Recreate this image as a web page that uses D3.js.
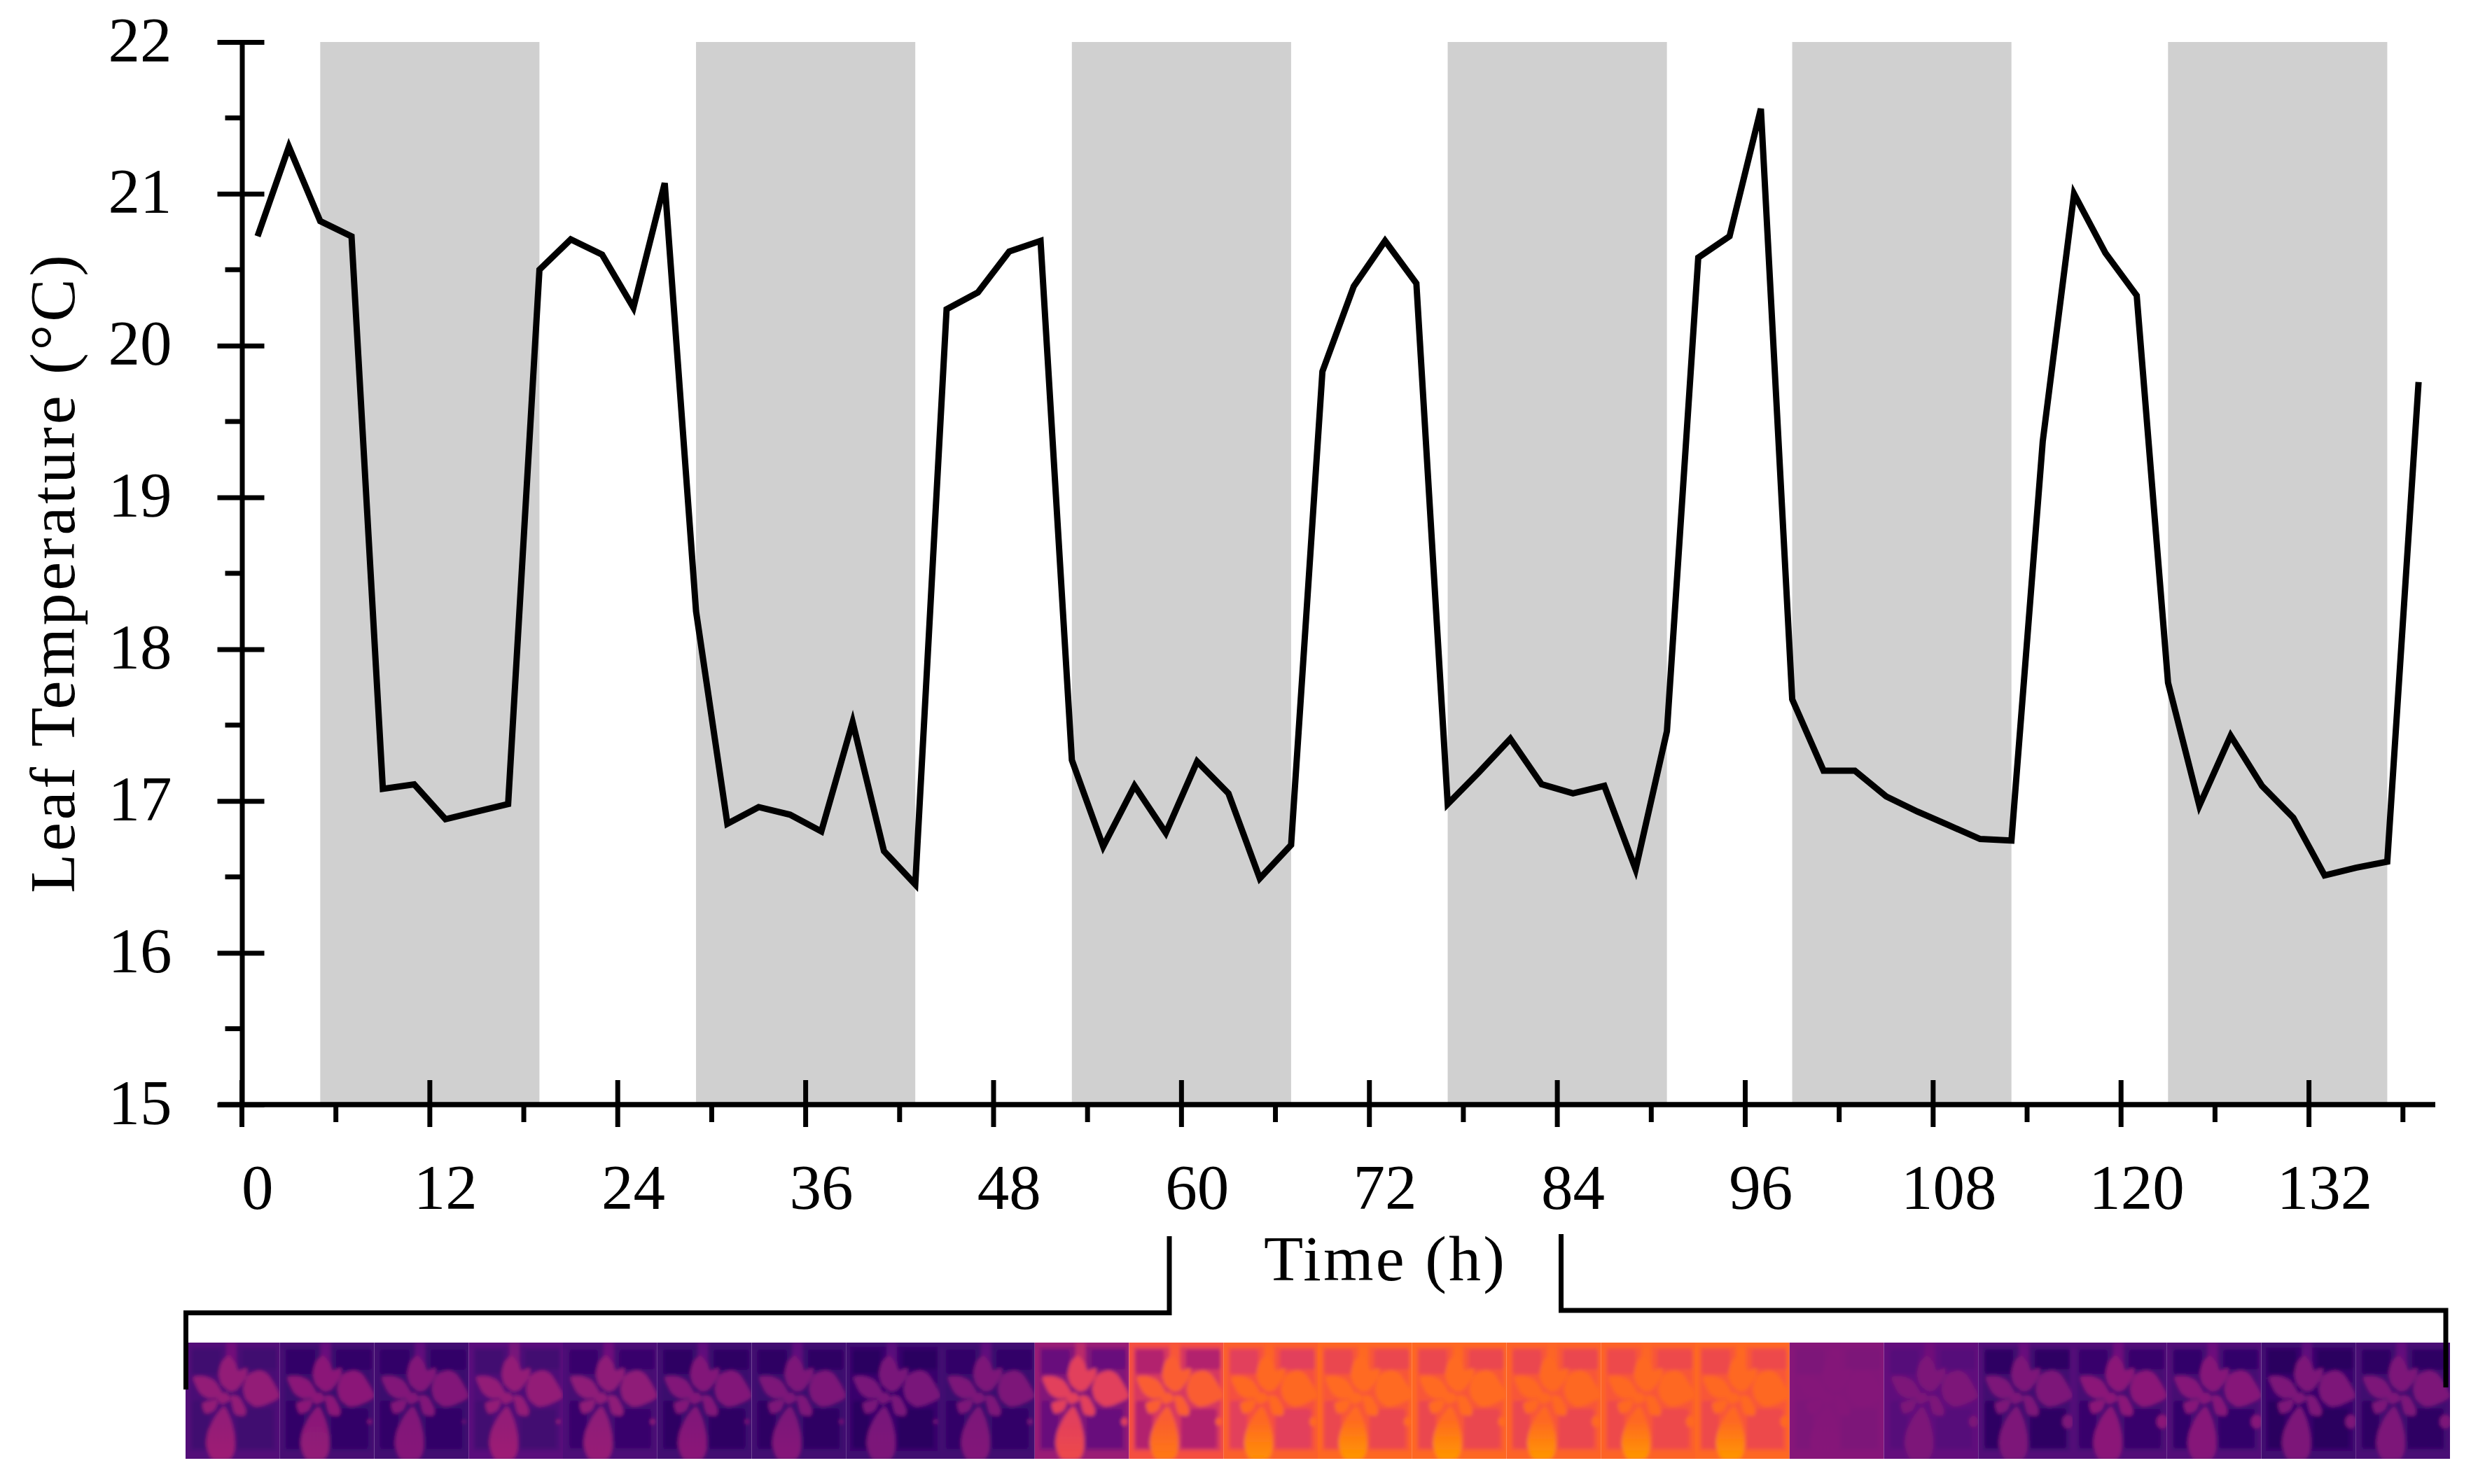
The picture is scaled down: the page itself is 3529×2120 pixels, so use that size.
<!DOCTYPE html>
<html>
<head>
<meta charset="utf-8">
<script src="https://cdn.jsdelivr.net/npm/d3@7"></script>
<style>
  html, body { margin: 0; padding: 0; background: #fff; }
  svg { display: block; }
  text { font-family: "Liberation Serif", serif; fill: #000; }
</style>
</head>
<body>
<div id="chart"></div>
<script>
// leaf temperature, one reading every 2 h
var hours = d3.range(0, 140, 2);
var leafTemp = [
  20.72, 21.31, 20.82, 20.72, 17.08, 17.11, 16.88, 16.93, 16.98, 20.50,
  20.70, 20.60, 20.25, 21.07, 18.25, 16.85, 16.96, 16.91, 16.80, 17.52,
  16.67, 16.45, 20.24, 20.35, 20.62, 20.69, 17.27, 16.70, 17.10, 16.79,
  17.26, 17.05, 16.49, 16.71, 19.83, 20.39, 20.69, 20.41, 16.98, 17.19,
  17.41, 17.11, 17.05, 17.10, 16.55, 17.46, 20.58, 20.72, 21.56, 17.67,
  17.20, 17.20, 17.03, 16.93, 16.84, 16.75, 16.74, 19.37, 21.00, 20.61,
  20.33, 17.78, 16.97, 17.43, 17.10, 16.89, 16.51, 16.56, 16.60, 19.76
];
var nightStart = [4, 28, 52, 76, 98, 122];
var nightEnd = [18, 42, 66, 90, 112, 136];

var yMajor = [15, 16, 17, 18, 19, 20, 21, 22];
var yMinor = [15.5, 16.5, 17.5, 18.5, 19.5, 20.5, 21.5];
var xMajor = [0, 12, 24, 36, 48, 60, 72, 84, 96, 108, 120, 132];
var xMinor = [6, 18, 30, 42, 54, 66, 78, 90, 102, 114, 126, 138];

// thermal strip, heat level of each frame (0 = coldest, .8 = hottest)
var frameEdge = [.23, .2, .19, .25, .22, .19, .19, .18, .19, .4, .6, .65, .67, .67, .66, .66, .67, .35, .27, .23, .23, .23, .19, .21];
var frameInner = [.21, .17, .17, .22, .2, .17, .17, .16, .17, .34, .53, .6, .62, .62, .62, .62, .62, .34, .26, .19, .2, .2, .16, .18];
var framePatch = [.18, .14, .14, .19, .16, .13, .13, .12, .14, .28, .46, .55, .57, .57, .57, .58, .58, .33, .24, .13, .16, .15, .11, .13];
var frameLeaf = [.38, .36, .34, .38, .37, .34, .33, .32, .33, .55, .64, .67, .68, .68, .67, .67, .67, .345, .33, .33, .36, .35, .33, .33];
var frameBase = [.41, .38, .35, .41, .39, .36, .35, .33, .34, .58, .72, .78, .82, .81, .8, .8, .8, .35, .33, .33, .36, .35, .33, .33];
var frameBlip = [0, .4, .3, .4, .5, .4, .4, .4, .5, .7, .7, .8, .8, .8, 1, 1, 1, 0, 1, 1.2, 1.2, 1.2, 1.2, 1.2];

var heatStops = [0, .15, .25, .37, .45, .55, .6, .68, .8];
var heatColors = ['#12003c', '#33066a', '#5a0a7c', '#8f1a78', '#ad2170', '#e23f5c', '#f5503f', '#ff6a20', '#ff9500'];

// plant outline in frame units
var leaves = [
  [[.457,.11],[.53,.18],[.56,.24],[.65,.22],[.64,.3],[.55,.4],[.47,.42],[.38,.36],[.35,.27],[.38,.17]],
  [[.66,.28],[.78,.24],[.88,.28],[1,.46],[.86,.53],[.74,.55],[.64,.49],[.61,.39]],
  [[.08,.3],[.2,.29],[.31,.33],[.4,.46],[.25,.48],[.15,.43]],
  [[.18,.52],[.34,.49],[.31,.58],[.21,.61]],
  [[.33,.46],[.43,.43],[.48,.49],[.38,.53]],
  [[.48,.46],[.57,.47],[.64,.58],[.62,.63],[.52,.61]]
];
var lowLeaf = [[.41,.55],[.48,.66],[.52,.8],[.52,.92],[.47,1],[.28,1],[.22,.88],[.24,.76],[.32,.63]];
var patches = [[.07,.06,.37,.27],[.6,.06,.97,.23],[.07,.5,.25,.91],[.55,.57,.93,.91]];

var width = 3529, height = 2120;

var svg = d3.select('#chart').append('svg')
  .attr('width', width)
  .attr('height', height);

var x = d3.scaleBand().domain(hours).range([345.5, 3476.5]);
var y = d3.scaleLinear().domain([15, 22]).range([1578, 60]);
var mid = function(h) { return x(h) + x.bandwidth() / 2; };

// dark periods
svg.append('g').selectAll('rect')
  .data(d3.zip(nightStart, nightEnd))
  .enter()
  .append('rect')
  .attr('x', function(d) { return mid(d[0]); })
  .attr('width', function(d) { return mid(d[1]) - mid(d[0]); })
  .attr('y', y(22))
  .attr('height', y(15) - y(22))
  .attr('fill', '#d0d0d0');

var line = d3.line()
  .x(function(d, i) { return mid(hours[i]); })
  .y(function(d) { return y(d); });

// y axis
var yAxis = svg.append('g')
  .attr('transform', 'translate(' + x(0) + ',0)')
  .call(d3.axisLeft(y).tickValues(yMajor).tickSize(0).tickPadding(100).tickFormat(d3.format('d')));
yAxis.select('.domain').attr('stroke', '#000').attr('stroke-width', 7);
yAxis.selectAll('.tick text')
  .attr('font-size', 91)
  .attr('dy', 27)
  .attr('font-family', '"Liberation Serif", serif');
yAxis.selectAll('.tick line')
  .attr('x1', -35).attr('x2', 32)
  .attr('stroke', '#000').attr('stroke-width', 7);
yAxis.selectAll('line.minor')
  .data(yMinor)
  .enter()
  .append('line')
  .attr('class', 'minor')
  .attr('x1', -24).attr('x2', 0)
  .attr('y1', function(d) { return y(d); })
  .attr('y2', function(d) { return y(d); })
  .attr('stroke', '#000').attr('stroke-width', 7);

// x axis, labels sit on the band centre and ticks on the band edge
var xAxis = svg.append('g')
  .attr('transform', 'translate(0,' + y(15) + ')')
  .call(d3.axisBottom(x).tickValues(xMajor).tickSize(0).tickPadding(0));
xAxis.select('.domain').remove();
xAxis.selectAll('.tick text')
  .attr('font-size', 91)
  .attr('y', 149)
  .attr('dy', 0)
  .attr('font-family', '"Liberation Serif", serif');
xAxis.append('line')
  .attr('x1', 312).attr('x2', 3478)
  .attr('stroke', '#000').attr('stroke-width', 7.5);
xAxis.selectAll('line.major')
  .data(xMajor)
  .enter()
  .append('line')
  .attr('class', 'major')
  .attr('x1', function(d) { return x(d); })
  .attr('x2', function(d) { return x(d); })
  .attr('y1', -35).attr('y2', 32)
  .attr('stroke', '#000').attr('stroke-width', 7);
xAxis.selectAll('line.minor')
  .data(xMinor)
  .enter()
  .append('line')
  .attr('class', 'minor')
  .attr('x1', function(d) { return x(d); })
  .attr('x2', function(d) { return x(d); })
  .attr('y1', 0).attr('y2', 25)
  .attr('stroke', '#000').attr('stroke-width', 7);

svg.append('path')
  .datum(leafTemp)
  .attr('d', line)
  .attr('fill', 'none')
  .attr('stroke', '#000')
  .attr('stroke-width', 9)
  .attr('stroke-miterlimit', 6);

// axis titles
svg.append('text')
  .attr('transform', 'translate(106,820) rotate(-90)')
  .attr('text-anchor', 'middle')
  .attr('font-size', 92)
  .attr('textLength', 912)
  .text('Leaf Temperature (\u00b0C)');

svg.append('text')
  .attr('x', 1977)
  .attr('y', 1829)
  .attr('text-anchor', 'middle')
  .attr('font-size', 92)
  .attr('textLength', 344)
  .text('Time (h)');

// thermal strip
var frames = d3.range(24);
var frameX = d3.scaleBand().domain(frames).range([265, 3499]);
var stripTop = 1918, stripH = 166;
var u = d3.scaleLinear().domain([0, 1]).range([0, frameX.bandwidth()]);
var v = d3.scaleLinear().domain([0, 1]).range([0, stripH]);
var heat = d3.scaleLinear().domain(heatStops).range(heatColors).clamp(true);

var defs = svg.append('defs');
defs.append('filter')
  .attr('id', 'soft')
  .attr('x', '-10%').attr('y', '-10%').attr('width', '120%').attr('height', '120%')
  .append('feGaussianBlur')
  .attr('stdDeviation', 2.6);
defs.append('clipPath')
  .attr('id', 'frameClip')
  .append('rect')
  .attr('width', frameX.bandwidth())
  .attr('height', stripH);

// lowest leaf warms towards its base
var lowGrad = defs.selectAll('linearGradient')
  .data(frames)
  .enter()
  .append('linearGradient')
  .attr('id', function(d) { return 'low' + d; })
  .attr('x1', 0).attr('x2', 0).attr('y1', 0).attr('y2', 1);
lowGrad.append('stop')
  .attr('offset', '25%')
  .attr('stop-color', function(d) { return heat(frameLeaf[d]); });
lowGrad.append('stop')
  .attr('offset', '95%')
  .attr('stop-color', function(d) { return heat(frameBase[d]); });

var leafPath = d3.line()
  .x(function(d) { return u(d[0]); })
  .y(function(d) { return v(d[1]); })
  .curve(d3.curveCardinalClosed.tension(.35));

var frame = svg.append('g').selectAll('g')
  .data(frames)
  .enter()
  .append('g')
  .attr('transform', function(d) { return 'translate(' + frameX(d) + ',' + stripTop + ')'; })
  .attr('clip-path', 'url(#frameClip)')
  .append('g')
  .attr('filter', 'url(#soft)');

frame.append('rect')
  .attr('x', -10).attr('y', -10)
  .attr('width', frameX.bandwidth() + 20)
  .attr('height', stripH + 20)
  .attr('fill', function(d) { return heat(frameEdge[d]); });

frame.append('rect')
  .attr('x', u(.05)).attr('y', v(.04))
  .attr('width', u(.92))
  .attr('height', v(.89))
  .attr('fill', function(d) { return heat(frameInner[d]); });

frame.selectAll('rect.patch')
  .data(function(d) { return patches.map(function(p) { return {p: p, f: d}; }); })
  .enter()
  .append('rect')
  .attr('class', 'patch')
  .attr('x', function(d) { return u(d.p[0]); })
  .attr('y', function(d) { return v(d.p[1]); })
  .attr('width', function(d) { return u(d.p[2]) - u(d.p[0]); })
  .attr('height', function(d) { return v(d.p[3]) - v(d.p[1]); })
  .attr('rx', 4)
  .attr('fill', function(d) { return heat(framePatch[d.f]); });

// faint stem above the plant
frame.append('rect')
  .attr('x', u(.43)).attr('y', 0)
  .attr('width', u(.11))
  .attr('height', v(.2))
  .attr('fill', function(d) { return heat((frameEdge[d] + frameLeaf[d]) / 2); });

frame.selectAll('path.leaf')
  .data(function(d) { return leaves.map(function(l) { return {l: l, f: d}; }); })
  .enter()
  .append('path')
  .attr('class', 'leaf')
  .attr('d', function(d) { return leafPath(d.l); })
  .attr('fill', function(d) { return heat(frameLeaf[d.f]); });

frame.append('path')
  .attr('d', leafPath(lowLeaf))
  .attr('fill', function(d) { return 'url(#low' + d + ')'; });

// small neighbouring leaf on the right edge
frame.append('ellipse')
  .attr('cx', u(.95))
  .attr('cy', v(.68))
  .attr('rx', function(d) { return u(.05) * frameBlip[d]; })
  .attr('ry', function(d) { return v(.05) * frameBlip[d]; })
  .attr('fill', function(d) { return heat(frameLeaf[d]); });

// brackets from the axis down to the strip
var bracket = d3.line();
svg.append('path')
  .attr('d', bracket([[265.5, 1985], [265.5, 1875.5], [1670, 1875.5], [1670, 1766]]))
  .attr('fill', 'none').attr('stroke', '#000').attr('stroke-width', 7);
svg.append('path')
  .attr('d', bracket([[2229.5, 1763], [2229.5, 1872], [3493, 1872], [3493, 1982]]))
  .attr('fill', 'none').attr('stroke', '#000').attr('stroke-width', 7);
</script>
</body>
</html>
